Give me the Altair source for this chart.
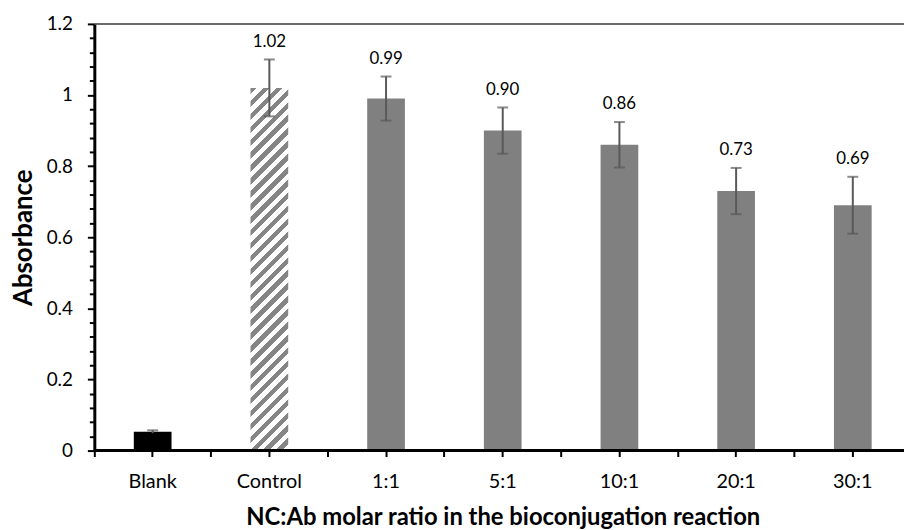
import altair as alt
import pandas as pd

categories = ["Blank", "Control", "1:1", "5:1", "10:1", "20:1", "30:1"]
values = [0.053, 1.02, 0.99, 0.90, 0.86, 0.73, 0.69]
errors = [0.004, 0.08, 0.062, 0.065, 0.064, 0.065, 0.08]
labels = ["", "1.02", "0.99", "0.90", "0.86", "0.73", "0.69"]
kinds = ["blank", "control", "ratio", "ratio", "ratio", "ratio", "ratio"]

df = pd.DataFrame({"cat": categories, "value": values, "err": errors,
                   "label": labels, "kind": kinds})
df["lo"] = df["value"] - df["err"]
df["hi"] = df["value"] + df["err"]

FONT = "Lato"
STEP = 117.6
PLOT_W = 816
PLOT_H = 430
BAR_W = 38
YMAX = 1.2

xscale = alt.Scale(domain=categories, paddingInner=0, paddingOuter=0,
                   rangeMin=0, rangeMax=STEP * len(categories))
yscale = alt.Scale(domain=[0, YMAX], nice=False, zero=True)

minor_vals = [round(i * 0.04, 2) for i in range(31)]
major_test = "abs(datum.value * 5 - round(datum.value * 5)) < 0.001"

y_axis = alt.Axis(
    values=minor_vals,
    labelExpr=f"({major_test}) ? format(datum.value, '~g') : ''",
    labelOverlap=False,
    labelFont=FONT, labelFontSize=19, labelColor="black", labelPadding=15,
    tickColor="black", tickWidth=2,
    tickSize={"condition": {"test": major_test, "value": 7}, "value": 5},
    domainColor="black", domainWidth=3, grid=False,
    title="Absorbance", titleFont=FONT, titleFontSize=26,
    titleFontWeight="bold", titleColor="black", titlePadding=10,
)

x_axis_main = alt.Axis(
    orient="bottom",
    title="NC:Ab molar ratio in the bioconjugation reaction",
    titleFont=FONT, titleFontSize=24, titleFontWeight="bold",
    titleColor="black", titlePadding=15,
    labelFont=FONT, labelFontSize=20, labelColor="black", labelPadding=15,
    labelAngle=0, domain=False, ticks=True, tickSize=6, tickWidth=2,
    tickColor="black", grid=False,
)
x_axis_bound = alt.Axis(
    orient="bottom",
    title=None, labels=False, domain=False,
    ticks=True, tickSize=6, tickWidth=2, tickColor="black",
    bandPosition=0, grid=False,
)

# diagonal hatch for the control bar (linear gradient with hard stops)
W = BAR_W
H = values[1] / YMAX * PLOT_H
k = (W + H) / (W * W + H * H)
n_stripes = round((W + H) / 13)
stops = []
for i in range(n_stripes):
    a = i / n_stripes
    b = (i + 0.5) / n_stripes
    c = (i + 1) / n_stripes
    stops += [alt.GradientStop(color="#858585", offset=a),
              alt.GradientStop(color="#858585", offset=b),
              alt.GradientStop(color="#ffffff", offset=b),
              alt.GradientStop(color="#ffffff", offset=c)]
hatch = alt.LinearGradient(gradient="linear", stops=stops,
                           x1=0, y1=0, x2=k * W, y2=k * H)

base = alt.Chart(df)

bars_ratio = base.transform_filter(alt.datum.kind == "ratio").mark_bar(
    width=BAR_W, color="#808080").encode(
    x=alt.X("cat:N", scale=xscale, axis=x_axis_main, sort=categories),
    y=alt.Y("value:Q", scale=yscale, axis=y_axis),
)
bar_blank = base.transform_filter(alt.datum.kind == "blank").mark_bar(
    width=BAR_W, color="black").encode(
    x=alt.X("cat:N", scale=xscale, axis=None, sort=categories),
    y=alt.Y("value:Q", scale=yscale, axis=y_axis),
)
bar_control = base.transform_filter(alt.datum.kind == "control").mark_bar(
    width=BAR_W, fill=hatch).encode(
    x=alt.X("cat:N", scale=xscale, axis=None, sort=categories),
    y=alt.Y("value:Q", scale=yscale, axis=y_axis),
)
err_rule = base.mark_rule(color="#595959", strokeWidth=2).encode(
    x=alt.X("cat:N", scale=xscale, axis=x_axis_bound, sort=categories),
    y=alt.Y("lo:Q", scale=yscale, axis=y_axis),
    y2="hi:Q",
)
cap_hi = base.mark_tick(color="#595959", size=11, thickness=2).encode(
    x=alt.X("cat:N", scale=xscale, axis=None, sort=categories),
    y=alt.Y("hi:Q", scale=yscale, axis=y_axis),
)
cap_lo = base.transform_filter(alt.datum.kind != "blank").mark_tick(
    color="#595959", size=11, thickness=2).encode(
    x=alt.X("cat:N", scale=xscale, axis=None, sort=categories),
    y=alt.Y("lo:Q", scale=yscale, axis=y_axis),
)
text = base.transform_filter(alt.datum.label != "").mark_text(
    font=FONT, fontSize=17, color="black", baseline="alphabetic", dy=-13).encode(
    x=alt.X("cat:N", scale=xscale, axis=None, sort=categories),
    y=alt.Y("hi:Q", scale=yscale, axis=y_axis),
    text="label:N",
)
frame = pd.DataFrame({"line": [0.0, YMAX], "edge": ["bottom", "top"]})
bottom_line = alt.Chart(frame).transform_filter(alt.datum.edge == "bottom").mark_rule(
    color="black", strokeWidth=3).encode(
    y=alt.Y("line:Q", scale=yscale, axis=y_axis),
)
top_rule = alt.Chart(frame).transform_filter(alt.datum.edge == "top").mark_rule(
    color="#3a3a3a", strokeWidth=1.5).encode(
    y=alt.Y("line:Q", scale=yscale, axis=y_axis),
)

chart = alt.layer(
    bars_ratio, bar_blank, bar_control, err_rule, cap_hi, cap_lo, text,
    top_rule, bottom_line
).resolve_axis(x="independent").properties(
    width=PLOT_W, height=PLOT_H,
    autosize=alt.AutoSizeParams(type="none"),
    padding={"left": 87, "top": 14, "right": 0, "bottom": 78},
).configure_view(stroke=None)

chart.save("out.html", embed_options={"renderer": "svg", "actions": False})
